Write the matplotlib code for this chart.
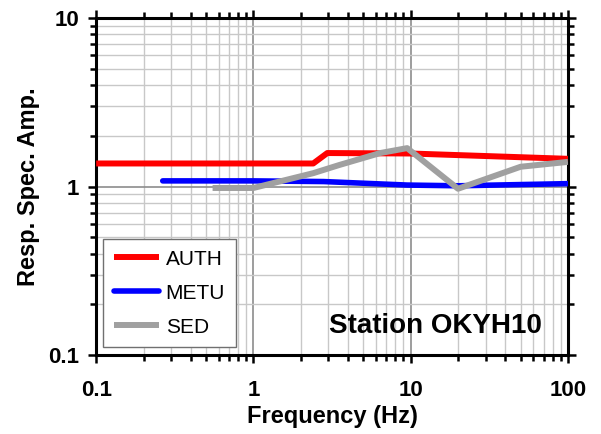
import matplotlib
matplotlib.use("Agg")
import matplotlib.pyplot as plt
from matplotlib.ticker import LogLocator, NullFormatter, FixedLocator, FixedFormatter

# data
auth_f = [0.1, 2.4, 2.95, 10, 100]
auth_a = [1.37, 1.37, 1.58, 1.57, 1.46]

metu_f = [0.265, 1, 2.8, 9.5, 20, 100]
metu_a = [1.08, 1.08, 1.07, 1.02, 1.01, 1.04]

sed_f = [0.55, 1.0, 2.4, 3.5, 6.4, 9.5, 20, 50, 100]
sed_a = [0.98, 0.98, 1.20, 1.34, 1.58, 1.69, 0.97, 1.31, 1.40]

xticks = [0.1, 1, 10, 100]
xlabels = ["0.1", "1", "10", "100"]
yticks = [0.1, 1, 10]
ylabels = ["0.1", "1", "10"]

plt.rcParams['font.family'] = ['Liberation Sans', 'DejaVu Sans']

fig = plt.figure(figsize=(6.01, 4.34), dpi=100)
ax = fig.add_axes([0.160, 0.182, 0.785, 0.7765])

ax.plot(auth_f, auth_a, color='#ff0000', lw=4.3, label='AUTH', solid_capstyle='butt', zorder=3)
ax.plot(metu_f, metu_a, color='#0000ff', lw=4.0, label='METU', solid_capstyle='round', zorder=3)
ax.plot(sed_f, sed_a, color='#a0a0a0', lw=4.3, label='SED', solid_capstyle='butt', zorder=4)

ax.set_xscale('log')
ax.set_yscale('log')
ax.set_xlim(0.1, 100)
ax.set_ylim(0.1, 10)

for axis in (ax.xaxis, ax.yaxis):
    axis.set_minor_locator(LogLocator(base=10, subs=range(2, 10)))
    axis.set_minor_formatter(NullFormatter())
ax.xaxis.set_major_locator(FixedLocator(xticks))
ax.xaxis.set_major_formatter(FixedFormatter(xlabels))
ax.yaxis.set_major_locator(FixedLocator(yticks))
ax.yaxis.set_major_formatter(FixedFormatter(ylabels))

ax.grid(True, which='major', color='#8c8c8c', lw=1.2)
ax.grid(True, which='minor', color='#c8c8c8', lw=1.0)
ax.set_axisbelow(True)

for s in ax.spines.values():
    s.set_linewidth(2.2)
ax.tick_params(which='both', direction='out', top=True, right=True, width=1.8)
ax.tick_params(which='major', length=6, pad=6, labelsize=16)
ax.tick_params(which='minor', length=4)
for lab in ax.get_xticklabels() + ax.get_yticklabels():
    lab.set_fontweight('bold')
ax.tick_params(axis='x', pad=12)

ax.set_xlabel('Frequency (Hz)', fontsize=17, fontweight='bold', labelpad=3)
ax.set_ylabel('Resp. Spec. Amp.', fontsize=17, fontweight='bold', labelpad=6)

leg = ax.legend(loc='lower left', bbox_to_anchor=(0.015, 0.024), borderaxespad=0,
                fontsize=15, handlelength=2.2, labelspacing=0.72, fancybox=False,
                framealpha=1, edgecolor='#707070', borderpad=0.5, handletextpad=0.3)
leg.get_frame().set_linewidth(1.0)

ax.text(0.945, 0.065, 'Station OKYH10', transform=ax.transAxes, ha='right',
        va='baseline', fontsize=20, fontweight='bold')

fig.savefig('out.png', dpi=100)
